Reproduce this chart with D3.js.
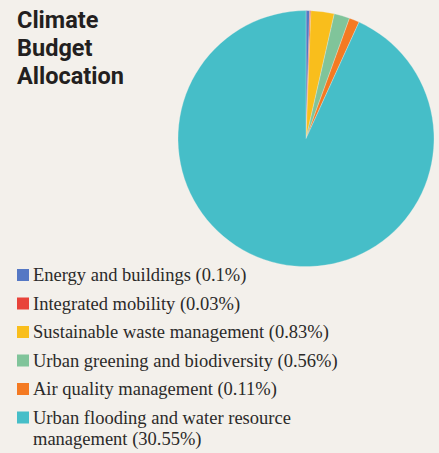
<!DOCTYPE html>
<html>
<head>
<meta charset="utf-8">
<script src="https://cdn.jsdelivr.net/npm/d3@7"></script>
<style>
  html, body { margin: 0; padding: 0; background: #f3f0eb; }
  svg { display: block; }
</style>
</head>
<body>
<script>
// Data
const categories = [
  "Energy and buildings",
  "Integrated mobility",
  "Sustainable waste management",
  "Urban greening and biodiversity",
  "Air quality management",
  "Urban flooding and water resource management"
];
const percentLabels = ["0.1%", "0.03%", "0.83%", "0.56%", "0.11%", "30.55%"];
// Share of the pie as drawn
const pieShares = [0.46, 0.15, 2.94, 1.97, 1.28, 93.2];
const colors = ["#5578c4", "#e8433a", "#f9be1c", "#80c49a", "#f47a22", "#46bec8"];
const titleLines = ["Climate", "Budget", "Allocation"];

const W = 439, H = 453;
const svg = d3.select("body").append("svg").attr("width", W).attr("height", H);
svg.append("rect").attr("width", W).attr("height", H).attr("fill", "#f3f0eb");

// Title
const title = svg.append("text")
  .attr("font-family", "Roboto, 'Noto Sans', sans-serif")
  .attr("font-weight", 700)
  .attr("font-size", 23.5)
  .attr("fill", "#231f20");
titleLines.forEach((t, i) => {
  title.append("tspan").attr("x", 17).attr("y", 27.5 + i * 28.3).text(t);
});

// Pie
const cx = 306, cy = 138.6, r = 128;
const pie = d3.pie().sort(null).value(d => d.v);
const arc = d3.arc().innerRadius(0).outerRadius(r);
const data = categories.map((c, i) => ({ c, v: pieShares[i], col: colors[i] }));
svg.append("g").attr("transform", `translate(${cx},${cy})`)
  .selectAll("path").data(pie(data)).join("path")
  .attr("d", arc)
  .attr("fill", d => d.data.col)
  .attr("stroke", "#f3f0eb")
  .attr("stroke-width", 0.3);

// Legend
const legend = svg.append("g");
const rowY = [281, 309.5, 338, 366.5, 395, 423.5];
categories.forEach((c, i) => {
  const g = legend.append("g");
  g.append("rect").attr("x", 17).attr("y", rowY[i] - 12).attr("width", 12).attr("height", 12)
    .attr("fill", colors[i]);
  const t = g.append("text")
    .attr("font-family", "'Liberation Serif', 'Times New Roman', serif")
    .attr("font-size", 18.5)
    .attr("fill", "#2b2a29");
  if (i === 5) {
    t.append("tspan").attr("x", 33).attr("y", rowY[i]).text("Urban flooding and water resource");
    t.append("tspan").attr("x", 33).attr("y", rowY[i] + 21).text(`management (${percentLabels[i]})`);
  } else {
    t.append("tspan").attr("x", 33).attr("y", rowY[i]).text(`${c} (${percentLabels[i]})`);
  }
});
</script>
</body>
</html>
